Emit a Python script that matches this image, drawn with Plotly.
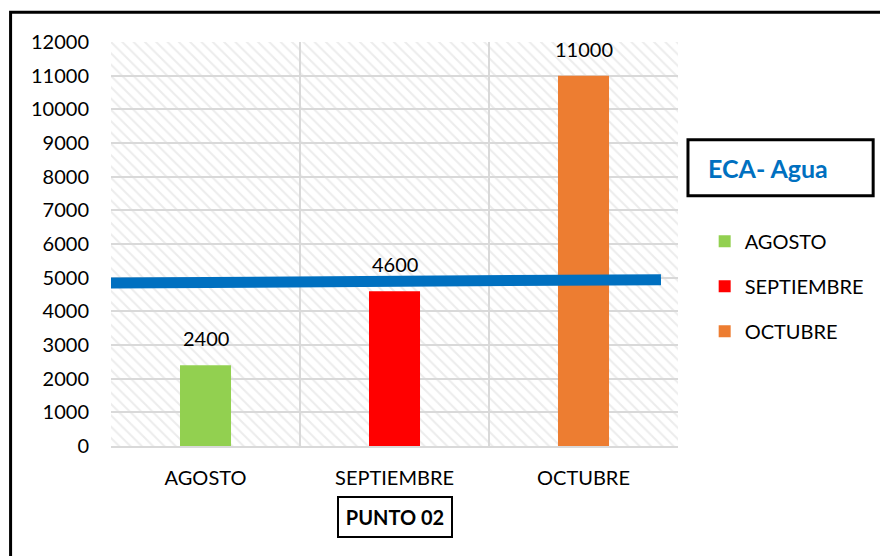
import plotly.graph_objects as go

categories = ["AGOSTO", "SEPTIEMBRE", "OCTUBRE"]
values = [2400, 4600, 11000]
colors = ["#92D050", "#FF0000", "#ED7D31"]
y_ticks = list(range(0, 12001, 1000))
y_tick_labels = [str(v) for v in y_ticks]
eca_label = "ECA- Agua"
eca_y = [4840, 4940]
x_title = "PUNTO 02"

FONT = "Lato, 'Liberation Sans', Arial, sans-serif"

fig = go.Figure()

# hatched plot background
fig.add_trace(go.Bar(
    x=[categories[1]], y=[y_ticks[-1]], width=3,
    marker=dict(color="rgba(0,0,0,0)", line=dict(width=0),
                pattern=dict(shape="\\", fgcolor="#d9d9d9", bgcolor="rgba(0,0,0,0)",
                             size=8, solidity=0.25)),
    showlegend=False, hoverinfo="skip",
))

for i, (c, v, col) in enumerate(zip(categories, values, colors)):
    fig.add_trace(go.Bar(
        x=[c], y=[v], name=c, width=0.27,
        marker=dict(color=col, line=dict(width=0)),
        legendgroup=c,
    ))
    fig.add_annotation(x=c, y=v, text=str(v), showarrow=False, yanchor="bottom",
                       yshift=13, font=dict(family=FONT, size=20, color="#000000"))

# ECA line
fig.add_shape(type="line", xref="x", yref="y", x0=-0.514, x1=2.41, y0=eca_y[0], y1=eca_y[1],
              line=dict(color="#0070C0", width=11), layer="above")

# ECA box
fig.add_shape(type="rect", xref="paper", yref="paper", x0=1.0176, x1=1.3442, y0=0.6193, y1=0.758,
              line=dict(color="#000000", width=3), fillcolor="rgba(0,0,0,0)")
fig.add_annotation(xref="paper", yref="paper", x=(770 - 110.7) / 568.6, y=(446 - 168) / 403.7,
                   text="<b>%s</b>" % eca_label, showarrow=False, xanchor="center", yanchor="middle",
                   font=dict(family=FONT, size=25, color="#0070C0"))

# PUNTO 02 box
fig.add_annotation(xref="paper", yref="paper", x=0.5, y=(446 - 517) / 403.7,
                   text="<b>%s</b>" % x_title, showarrow=False, xanchor="center", yanchor="middle",
                   width=110, height=36, borderpad=1, bordercolor="#000000", borderwidth=2,
                   font=dict(family=FONT, size=20, color="#000000"))

# outer chart border
fig.add_shape(type="rect", xref="paper", yref="paper", x0=(10 - 110.7) / 568.6, x1=1.5,
              y0=-0.5, y1=(446 - 12.5) / 403.7, line=dict(color="#000000", width=3),
              fillcolor="rgba(0,0,0,0)")

fig.update_layout(
    width=880, height=556,
    margin=dict(l=111, r=201, t=42, b=110),
    paper_bgcolor="#FFFFFF", plot_bgcolor="#FFFFFF",
    barmode="overlay",
    font=dict(family=FONT, size=20, color="#000000"),
    legend=dict(x=(705 - 110.7) / 568.6, y=(446 - 222) / 403.7, xanchor="left", yanchor="top",
                font=dict(family=FONT, size=20, color="#000000"), tracegroupgap=16,
                bgcolor="rgba(0,0,0,0)"),
    showlegend=True,
)
fig.update_xaxes(type="category", categoryorder="array", categoryarray=categories,
                 range=[-0.5, 2.5], tickson="boundaries", showgrid=True, gridcolor="#d9d9d9",
                 gridwidth=2, showline=True, linecolor="#d9d9d9", linewidth=2, ticks="",
                 ticklabelstandoff=13, tickfont=dict(family=FONT, size=20, color="#000000"))
fig.update_yaxes(range=[0, 12000], tickvals=y_ticks, ticktext=y_tick_labels, showgrid=True,
                 gridcolor="#d9d9d9", gridwidth=2, zeroline=False, showline=False, ticks="",
                 ticklabelstandoff=21, tickfont=dict(family=FONT, size=20, color="#000000"))

fig.write_html("out.html")
